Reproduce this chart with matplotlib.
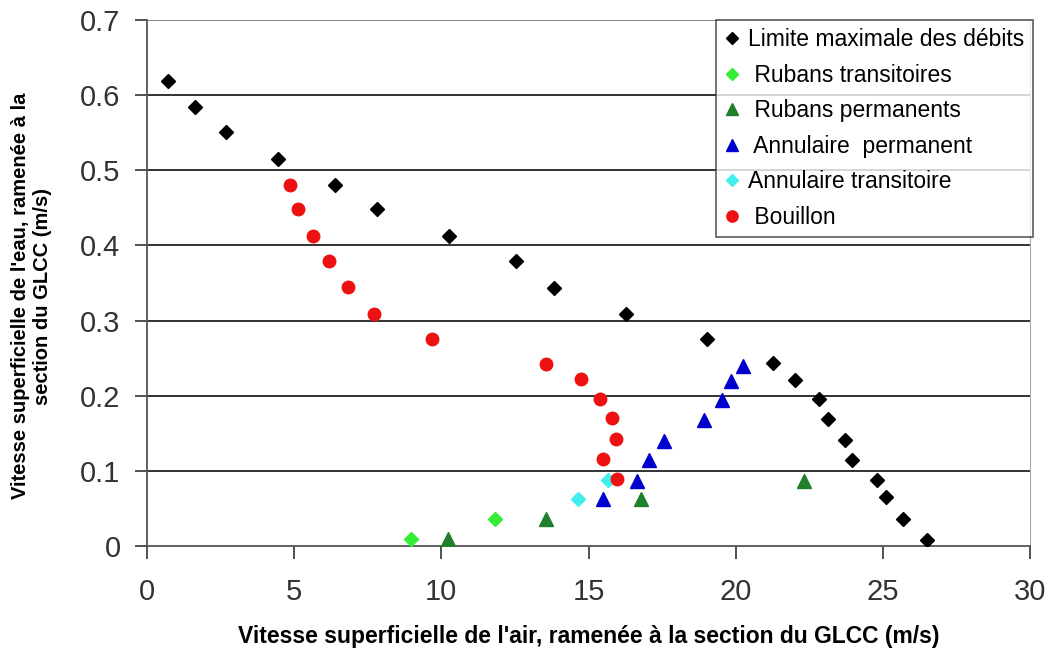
import matplotlib
matplotlib.use('Agg')
import matplotlib.pyplot as plt

plt.rcParams['font.family'] = ['Liberation Sans', 'DejaVu Sans']

# Limite maximale des débits
lim_x = [0.71, 1.63, 2.68, 4.45, 6.39, 7.82, 10.26, 12.54, 13.83, 16.28, 19.03,
         21.27, 22.02, 22.84, 23.14, 23.72, 23.96, 24.8, 25.1, 25.68, 26.5]
lim_y = [0.619, 0.584, 0.551, 0.515, 0.481, 0.448, 0.413, 0.379, 0.344, 0.309, 0.275,
         0.243, 0.221, 0.195, 0.169, 0.141, 0.115, 0.088, 0.065, 0.036, 0.008]

rt_x = [8.97, 11.82]
rt_y = [0.009, 0.036]

rp_x = [10.21, 13.56, 16.8, 22.33]
rp_y = [0.009, 0.036, 0.062, 0.087]

ap_x = [15.5, 16.66, 17.05, 17.57, 18.94, 19.55, 19.84, 20.24]
ap_y = [0.062, 0.087, 0.114, 0.140, 0.168, 0.194, 0.220, 0.240]

at_x = [14.65, 15.66]
at_y = [0.062, 0.088]

bo_x = [4.86, 5.14, 5.65, 6.19, 6.84, 7.71, 9.67, 13.54, 14.74, 15.39, 15.8, 15.94, 15.5, 15.97]
bo_y = [0.481, 0.448, 0.412, 0.379, 0.345, 0.309, 0.276, 0.242, 0.222, 0.196, 0.170, 0.143, 0.116, 0.089]

x_ticks = [0, 5, 10, 15, 20, 25, 30]
x_labels = ['0', '5', '10', '15', '20', '25', '30']
y_ticks = [0, 0.1, 0.2, 0.3, 0.4, 0.5, 0.6, 0.7]
y_labels = ['0', '0.1', '0.2', '0.3', '0.4', '0.5', '0.6', '0.7']

fig = plt.figure(figsize=(10.53, 6.56), dpi=100)
ax = fig.add_axes([147 / 1053, 1 - 546 / 656, 883 / 1053, 526 / 656])

ax.plot(lim_x, lim_y, 'D', color='black', ms=6.8, label='Limite maximale des débits', zorder=3)
ax.plot(rt_x, rt_y, 'D', color='#33ee33', ms=6.8, label=' Rubans transitoires', zorder=3)
ax.plot(rp_x, rp_y, '^', color='#1f7f2a', ms=9.5, label=' Rubans permanents', zorder=3)
ax.plot(ap_x, ap_y, '^', color='#0000cc', ms=9.5, label=' Annulaire  permanent', zorder=3)
ax.plot(at_x, at_y, 'D', color='#44eeee', ms=6.8, label='Annulaire transitoire', zorder=3)
ax.plot(bo_x, bo_y, 'o', color='#ee1111', ms=9, label=' Bouillon', zorder=3)

ax.set_xlim(0, 30)
ax.set_ylim(0, 0.7)
ax.set_xticks(x_ticks)
ax.set_xticklabels(x_labels)
ax.set_yticks(y_ticks)
ax.set_yticklabels(y_labels)
ax.tick_params(axis='both', labelsize=21, colors='#333333', length=9, width=1.2, pad=10)
ax.tick_params(axis='x', pad=14)

for y in y_ticks[1:]:
    ax.axhline(y, color='#222222' if y < 0.7 else '#777777', lw=1.3, zorder=1)

ax.spines['top'].set_visible(False)
ax.spines['left'].set_color('#555555')
ax.spines['bottom'].set_color('#555555')
ax.spines['right'].set_color('#aaaaaa')
for s in ['left', 'bottom']:
    ax.spines[s].set_linewidth(1.3)

ax.set_xlabel("Vitesse superficielle de l'air, ramenée à la section du GLCC (m/s)",
              fontsize=16.5, fontweight='bold', labelpad=14)
ax.set_ylabel("Vitesse superficielle de l'eau, ramenée à la\nsection du GLCC (m/s)",
              fontsize=14.5, fontweight='bold')
ax.yaxis.set_label_coords(-0.108, 0.475)

leg = ax.legend(loc='upper right', bbox_to_anchor=(1.003, 1.0), borderaxespad=0,
                fontsize=16.5, frameon=True, fancybox=False, edgecolor='#333333',
                handlelength=0.7, handletextpad=0.35, labelspacing=0.55,
                borderpad=0.35, numpoints=1, markerscale=0.9)
leg.get_frame().set_linewidth(1.2)

fig.savefig('out.png', dpi=100)
